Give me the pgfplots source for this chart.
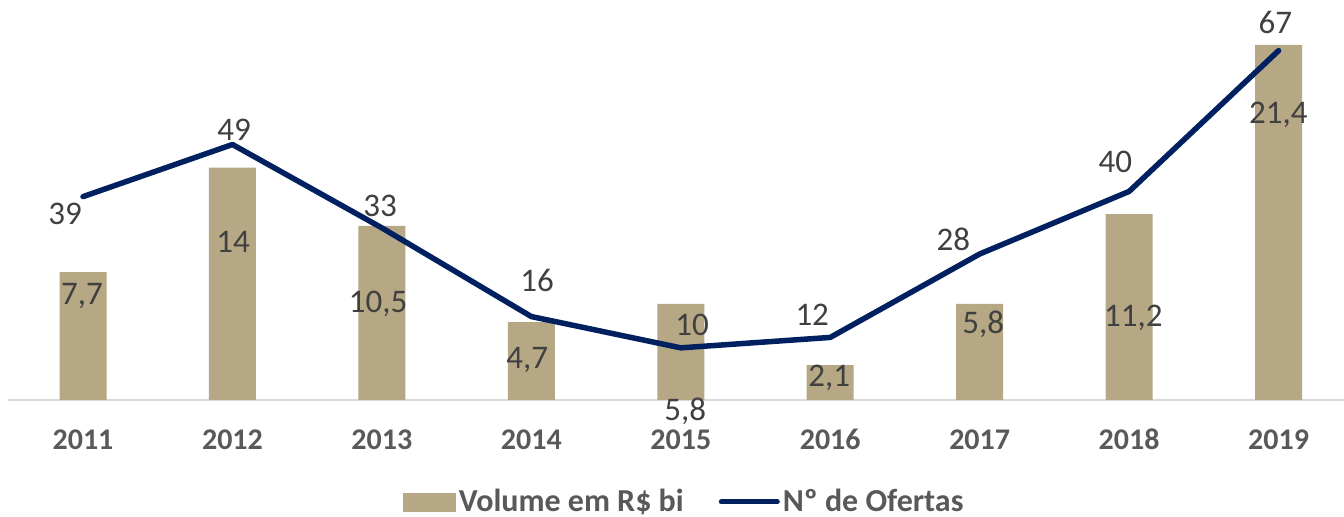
\documentclass[border=0pt]{standalone}
\usepackage{pgfplots}
\usepackage{pgfplotstable}
\pgfplotsset{compat=1.18}
\usepackage{fontspec}
\setmainfont{Carlito}

\definecolor{barc}{HTML}{B6A884}
\definecolor{linec}{HTML}{002060}
\definecolor{lbl}{HTML}{404040}
\definecolor{yr}{HTML}{595959}
\definecolor{basec}{HTML}{D9D9D9}

% volume (R$ bi); dx, dy = label offset in px from the bar top
\pgfplotstableread{
x v lab dx dy
0 7.7 7,7 -1 -32.7
1 14 14 0.6 -84.3
2 10.5 10,5 -3.8 -87.2
3 4.7 4,7 -4.2 -46
4 5.8 5,8 4.4 -117
5 2.1 2,1 -1 -21.8
6 5.8 5,8 3.6 -30.2
7 11.2 11,2 4.2 -112.8
8 21.4 21,4 -0.2 -79
}\voldata

% number of offerings
\pgfplotstableread{
x n lab dx dy
0 39 39 -18 -28.2
1 49 49 1.6 3.8
2 33 33 -1.8 11.1
3 16 16 5.8 24.7
4 10 10 11.4 11.9
5 12 12 -18 11.5
6 28 28 -26.4 3.1
7 40 40 -13.8 18.6
8 67 67 -3.2 17
}\ofdata

\pgfplotsset{
  base geom/.style={
    at={(4.15pt,58.5pt)}, anchor=south west,
    scale only axis, width=672.5pt, height=182.5pt,
    xmin=-0.5, xmax=8.5, clip=false,
  },
  shifted labels/.style={
    point meta=explicit symbolic,
    nodes near coords,
    visualization depends on={\thisrow{dx}\as\dx},
    visualization depends on={\thisrow{dy}\as\dy},
    nodes near coords style={anchor=base, inner sep=0pt, text=lbl,
      font=\fontsize{16.5}{18}\selectfont,
      xshift={\dx*0.5pt}, yshift={\dy*0.5pt}},
  },
}

\begin{document}
\begin{tikzpicture}
\begin{axis}[
  base geom,
  ymin=0, ymax=22,
  axis x line=bottom, axis y line=none,
  x axis line style={draw=basec, line width=0.75pt, -},
  xtick={0,...,8},
  xticklabels={2011,2012,2013,2014,2015,2016,2017,2018,2019},
  major tick length=0pt,
  xticklabel style={font=\fontsize{15}{18}\selectfont\bfseries, text=yr,
    anchor=base, yshift=-25pt},
]
\addplot[ybar, bar width=23.5pt, fill=barc, draw=none, shifted labels]
  table[x=x, y=v, meta=lab] {\voldata};
\end{axis}

\begin{axis}[
  base geom,
  ymin=0, ymax=70,
  hide axis,
  legend columns=2,
  legend style={at={(0.503,0)}, anchor=center, yshift=-51pt,
    draw=none, fill=none, inner sep=0pt,
    /tikz/every even column/.append style={column sep=16pt},
    nodes={inner xsep=1.5pt, inner ysep=0pt, text=yr,
      font=\fontsize{16}{18}\selectfont\bfseries}},
]
\addlegendimage{legend image code/.code={\fill[barc] (0pt,-4.5pt) rectangle (26pt,4.5pt);}}
\addlegendentry{Volume em R\$ bi}
\addplot[linec, line width=2.75pt, line join=round, line cap=round, shifted labels,
  legend image code/.code={\draw[linec, line width=2.5pt, line cap=round] (0pt,0pt) -- (28pt,0pt);}]
  table[x=x, y=n, meta=lab] {\ofdata};
\addlegendentry{Nº de Ofertas}
\end{axis}

\pgfresetboundingbox
\useasboundingbox (0,0) rectangle (672pt,258.5pt);
\end{tikzpicture}
\end{document}
